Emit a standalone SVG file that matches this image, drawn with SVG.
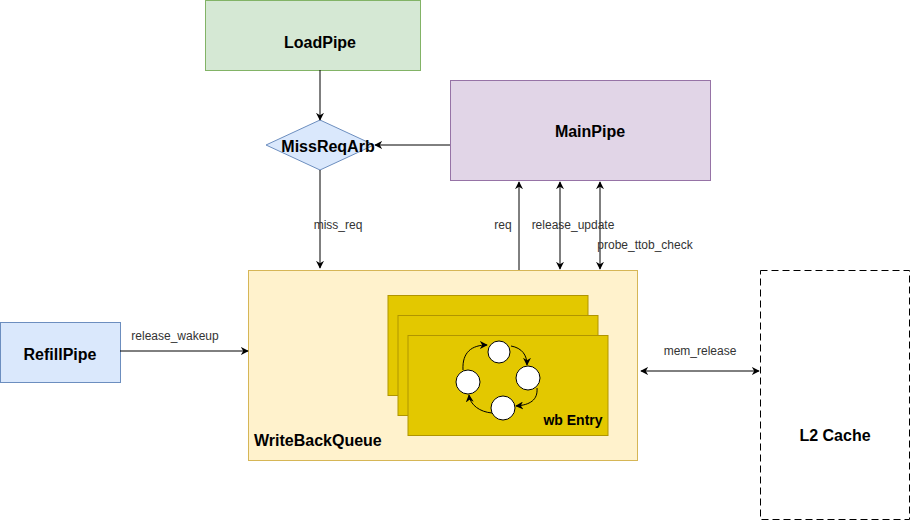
<svg xmlns="http://www.w3.org/2000/svg" width="912" height="522" viewBox="0 0 912 522">
<defs>
<marker id="ah" viewBox="0 0 10 10" refX="9" refY="5" markerWidth="8" markerHeight="8" orient="auto-start-reverse" markerUnits="userSpaceOnUse">
<path d="M0,0 L10,5 L0,10 L3,5 Z" fill="#000"/>
</marker>
</defs>
<style>
.lbl{font-family:"Liberation Sans",Arial,sans-serif;font-size:16px;font-weight:bold;fill:#000;text-anchor:middle;dominant-baseline:central}
.el{font-family:"Liberation Sans",Arial,sans-serif;font-size:12px;fill:#333;text-anchor:middle;dominant-baseline:central}
.c{stroke:#000;stroke-width:1;fill:none}
.entry{fill:#e3c800;stroke:#b09500;stroke-width:1}
.st{fill:#fff;stroke:#000;stroke-width:1}
</style>
<rect width="912" height="522" fill="#fff"/>
<g id="LoadPipe"><rect x="205.5" y="0.5" width="215" height="70" fill="#d5e8d4" stroke="#82b366"/><text class="lbl" x="320" y="42">LoadPipe</text></g>
<g id="MainPipe"><rect x="450.5" y="80.5" width="260" height="100" fill="#e1d5e7" stroke="#9673a6"/><text class="lbl" x="590" y="131">MainPipe</text></g>
<g id="MissReqArb"><polygon points="320,120 374,145 320,170 266,145" fill="#dae8fc" stroke="#6c8ebf"/><text class="lbl" x="328" y="146">MissReqArb</text></g>
<g id="RefillPipe"><rect x="0.5" y="322.5" width="120" height="60" fill="#dae8fc" stroke="#6c8ebf"/><text class="lbl" x="60" y="354">RefillPipe</text></g>
<g id="WriteBackQueue"><rect x="248.5" y="270.5" width="389" height="190" fill="#fff2cc" stroke="#d6b656"/><text class="lbl" x="254" y="440" style="text-anchor:start">WriteBackQueue</text></g>
<g id="wbEntry">
<rect class="entry" x="388" y="295.5" width="200" height="100"/>
<rect class="entry" x="398" y="315.5" width="200" height="100"/>
<rect class="entry" x="408" y="335.5" width="200" height="100"/>
<circle class="st" cx="499" cy="352" r="11"/>
<circle class="st" cx="528" cy="378" r="12"/>
<circle class="st" cx="503" cy="408" r="12"/>
<circle class="st" cx="468" cy="382" r="12"/>
<path class="c" d="M463,370 C462,352 472,345 487,345" marker-end="url(#ah)"/>
<path class="c" d="M511,346 C522,348 527,355 527,365" marker-end="url(#ah)"/>
<path class="c" d="M537,388 C538,400 530,405 516,406" marker-end="url(#ah)"/>
<path class="c" d="M492,413 C480,412 470,405 469,395" marker-end="url(#ah)"/>
<text class="lbl" x="573" y="420" style="font-size:14px">wb Entry</text>
</g>
<g id="L2Cache"><rect x="760.5" y="270.5" width="149" height="249" fill="#fff" stroke="#000" stroke-dasharray="7,4"/><text class="lbl" x="835" y="435">L2 Cache</text></g>
<g id="connectors">
<line class="c" x1="320" y1="70" x2="320" y2="120" marker-end="url(#ah)"/>
<line class="c" x1="450" y1="145" x2="375" y2="145" marker-end="url(#ah)"/>
<line class="c" x1="320" y1="170" x2="320" y2="268" marker-end="url(#ah)"/>
<line class="c" x1="120" y1="351" x2="248" y2="351" marker-end="url(#ah)"/>
<line class="c" x1="519" y1="270" x2="519" y2="182" marker-end="url(#ah)"/>
<line class="c" x1="560" y1="182" x2="560" y2="269" marker-start="url(#ah)" marker-end="url(#ah)"/>
<line class="c" x1="600" y1="182" x2="600" y2="269" marker-start="url(#ah)" marker-end="url(#ah)"/>
<line class="c" x1="641" y1="371" x2="759" y2="371" marker-start="url(#ah)" marker-end="url(#ah)"/>
<text class="el" x="338" y="225">miss_req</text>
<text class="el" x="175" y="336">release_wakeup</text>
<text class="el" x="503" y="225">req</text>
<text class="el" x="573" y="225">release_update</text>
<text class="el" x="645" y="245">probe_ttob_check</text>
<text class="el" x="700" y="351">mem_release</text>
</g>
</svg>
